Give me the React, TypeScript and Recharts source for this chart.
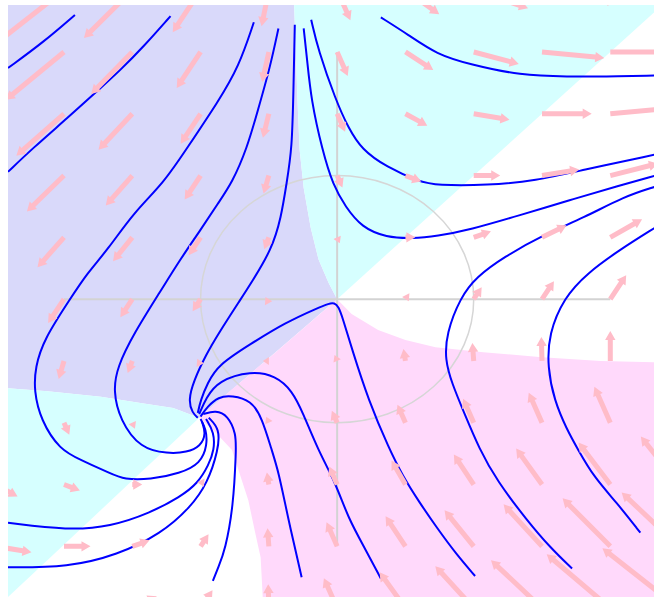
import {
  ComposedChart,
  XAxis,
  YAxis,
  Area,
  Line,
  Scatter,
  ReferenceLine,
  ReferenceArea,
} from "recharts";

type Pt = [number, number];
type BandRow = [number, number, number]; // x, low, high

const W = 654;
const H = 597;
const MARGIN = { top: 5, right: 0, bottom: 0, left: 8 };
const X_DOMAIN: [number, number] = [-2.41, 2.32];
const Y_DOMAIN: [number, number] = [-2.41, 2.38];

// sign regions of (dx/dt, dy/dt)
const lavenderBand: BandRow[] = [
  [-2.41, -0.72, 2.38],
  [-2.12, -0.745, 2.38],
  [-1.73, -0.79, 2.38],
  [-1.44, -0.84, 2.38],
  [-1.2, -0.88, 2.38],
  [-1.07, -0.935, 2.38],
  [-1.01, -0.96, 2.38],
  [-0.315, -0.3, 2.38],
  [-0.29, -0.276, 1.6],
  [-0.275, -0.261, 1.21],
  [-0.245, -0.233, 0.9],
  [-0.194, -0.184, 0.58],
  [-0.136, -0.129, 0.32],
  [-0.062, -0.059, 0.13],
  [0, 0, 0],
];

const cyanUpperBand: BandRow[] = [
  [-0.315, 2.38, 2.38],
  [-0.29, 1.6, 2.38],
  [-0.275, 1.21, 2.38],
  [-0.245, 0.9, 2.38],
  [-0.194, 0.58, 2.38],
  [-0.136, 0.32, 2.38],
  [-0.062, 0.13, 2.38],
  [0, 0, 2.38],
  [2.32, 2.32, 2.38],
];

const pinkBand: BandRow[] = [
  [-1.01, -0.96, -0.96],
  [-0.89, -1.08, -0.845],
  [-0.77, -1.22, -0.73],
  [-0.65, -1.63, -0.62],
  [-0.6, -1.89, -0.57],
  [-0.56, -2.09, -0.53],
  [-0.545, -2.41, -0.52],
  [0, -2.41, 0],
  [0.106, -2.41, -0.12],
  [0.3, -2.41, -0.25],
  [0.5, -2.41, -0.33],
  [0.72, -2.41, -0.39],
  [1.07, -2.41, -0.43],
  [1.5, -2.41, -0.47],
  [1.93, -2.41, -0.5],
  [2.32, -2.41, -0.51],
];

const cyanLowerBand: BandRow[] = [
  [-2.41, -2.41, -0.72],
  [-2.12, -2.11, -0.745],
  [-1.73, -1.706, -0.79],
  [-1.44, -1.405, -0.84],
  [-1.2, -1.157, -0.88],
  [-1.07, -1.022, -0.935],
  [-1.01, -0.96, -0.96],
];

// direction field sample grid
const gridX = [-2.5, -2, -1.5, -1, -0.5, 0, 0.5, 1, 1.5, 2, 2.5];
const gridY = [2.5, 2, 1.5, 1, 0.5, 0, -0.5, -1, -1.5, -2, -2.5];

const fieldU = [
  [-6.75, -5.2, -3.65, -2.1, -0.55, 1.0, 2.55, 4.1, 5.65, 7.2, 8.75],
  [-5.7, -4.4, -3.1, -1.8, -0.5, 0.8, 2.1, 3.4, 4.7, 6.0, 7.3],
  [-4.65, -3.6, -2.55, -1.5, -0.45, 0.6, 1.65, 2.7, 3.75, 4.8, 5.85],
  [-3.6, -2.8, -2.0, -1.2, -0.4, 0.4, 1.2, 2.0, 2.8, 3.6, 4.4],
  [-2.55, -2.0, -1.45, -0.9, -0.35, 0.2, 0.75, 1.3, 1.85, 2.4, 2.95],
  [-1.5, -1.2, -0.9, -0.6, -0.3, 0, 0.3, 0.6, 0.9, 1.2, 1.5],
  [-0.45, -0.4, -0.35, -0.3, -0.25, -0.2, -0.15, -0.1, -0.05, 0, 0.05],
  [0.6, 0.4, 0.2, 0, -0.2, -0.4, -0.6, -0.8, -1.0, -1.2, -1.4],
  [1.65, 1.2, 0.75, 0.3, -0.15, -0.6, -1.05, -1.5, -1.95, -2.4, -2.85],
  [2.7, 2.0, 1.3, 0.6, -0.1, -0.8, -1.5, -2.2, -2.9, -3.6, -4.3],
  [3.75, 2.8, 1.85, 0.9, -0.05, -1.0, -1.95, -2.9, -3.85, -4.8, -5.75],
];

const fieldV = [
  [-5, -4.5, -4, -3.5, -3, -2.5, -2, -1.5, -1, -0.5, 0],
  [-4.5, -4, -3.5, -3, -2.5, -2, -1.5, -1, -0.5, 0, 0.5],
  [-4, -3.5, -3, -2.5, -2, -1.5, -1, -0.5, 0, 0.5, 1],
  [-3.5, -3, -2.5, -2, -1.5, -1, -0.5, 0, 0.5, 1, 1.5],
  [-3, -2.5, -2, -1.5, -1, -0.5, 0, 0.5, 1, 1.5, 2],
  [-2.5, -2, -1.5, -1, -0.5, 0, 0.5, 1, 1.5, 2, 2.5],
  [-2, -1.5, -1, -0.5, 0, 0.5, 1, 1.5, 2, 2.5, 3],
  [-1.5, -1, -0.5, 0, 0.5, 1, 1.5, 2, 2.5, 3, 3.5],
  [-1, -0.5, 0, 0.5, 1, 1.5, 2, 2.5, 3, 3.5, 4],
  [-0.5, 0, 0.5, 1, 1.5, 2, 2.5, 3, 3.5, 4, 4.5],
  [0, 0.5, 1, 1.5, 2, 2.5, 3, 3.5, 4, 4.5, 5],
];

// trajectories
const topLeftShort: Pt[] = [[-2.41, 1.87], [-2.15, 2.08], [-1.92, 2.3]];
const topLeftLong: Pt[] = [
  [-2.41, 1.03], [-2.23, 1.22], [-1.97, 1.47], [-1.75, 1.69], [-1.59, 1.85], [-1.42, 2.04], [-1.22, 2.29],
];
const outerLoop: Pt[] = [
  [-0.61, 2.24], [-0.72, 1.88], [-0.87, 1.6], [-1.1, 1.22], [-1.27, 0.94], [-1.49, 0.7], [-1.68, 0.4],
  [-1.83, 0.21], [-1.95, 0.01], [-2.15, -0.33], [-2.21, -0.55], [-2.22, -0.74], [-2.17, -0.98],
  [-2.03, -1.22], [-1.88, -1.3], [-1.66, -1.41], [-1.56, -1.46], [-1.37, -1.46], [-1.15, -1.41],
  [-1.0, -1.33], [-0.95, -1.18], [-0.96, -1.05], [-1.0, -0.97],
];
const innerLoop: Pt[] = [
  [-0.43, 2.19], [-0.49, 1.88], [-0.58, 1.53], [-0.66, 1.22], [-0.77, 0.94], [-0.87, 0.78], [-1.0, 0.56],
  [-1.15, 0.32], [-1.29, 0.07], [-1.49, -0.28], [-1.61, -0.55], [-1.64, -0.74], [-1.59, -0.98],
  [-1.44, -1.21], [-1.24, -1.25], [-1.1, -1.24], [-1.0, -1.19], [-0.96, -1.09], [-0.99, -0.99],
];
const leftSeparatrix: Pt[] = [
  [-0.31, 2.22], [-0.32, 1.69], [-0.33, 1.22], [-0.37, 0.94], [-0.41, 0.66], [-0.48, 0.4], [-0.63, 0.13],
  [-0.7, 0.01], [-0.87, -0.28], [-0.96, -0.45], [-1.05, -0.66], [-1.09, -0.82], [-1.06, -0.92], [-1.02, -0.96],
];
const upperRightInner: Pt[] = [
  [-0.245, 2.19], [-0.22, 1.94], [-0.19, 1.61], [-0.11, 1.21], [-0.03, 0.92], [0.06, 0.75], [0.18, 0.58],
  [0.36, 0.5], [0.55, 0.49], [0.73, 0.51], [0.97, 0.56], [1.34, 0.68], [1.7, 0.8], [2.07, 0.92], [2.33, 1.0],
];
const upperRightOuter: Pt[] = [
  [-0.19, 2.26], [-0.14, 2.02], [-0.01, 1.61], [0.08, 1.39], [0.18, 1.21], [0.36, 1.07], [0.6, 0.95],
  [0.73, 0.92], [1.1, 0.92], [1.46, 0.96], [1.78, 1.04], [2.33, 1.17],
];
const topRight: Pt[] = [
  [0.32, 2.28], [0.52, 2.14], [0.73, 1.98], [0.97, 1.9], [1.34, 1.81], [1.7, 1.8], [1.95, 1.8], [2.33, 1.81],
];
const rightInner: Pt[] = [
  [2.33, 0.91], [2.1, 0.83], [1.81, 0.66], [1.51, 0.52], [1.22, 0.34], [1.02, 0.18], [0.9, 0.01],
  [0.8, -0.28], [0.79, -0.49], [0.84, -0.68], [0.93, -0.92], [1.04, -1.21], [1.17, -1.47], [1.39, -1.79],
  [1.56, -2.01], [1.72, -2.18],
];
const rightOuter: Pt[] = [
  [2.33, 0.58], [2.07, 0.4], [1.83, 0.21], [1.66, 0.01], [1.55, -0.28], [1.54, -0.55], [1.59, -0.82],
  [1.68, -1.05], [1.76, -1.21], [1.88, -1.44], [2.05, -1.65], [2.22, -1.89],
];
const saddleSeparatrix: Pt[] = [
  [1.01, -2.24], [0.87, -2.06], [0.73, -1.85], [0.6, -1.64], [0.48, -1.43], [0.38, -1.21], [0.23, -0.82],
  [0.11, -0.41], [0.04, -0.15], [0.01, -0.06], [-0.02, -0.03], [-0.06, -0.035], [-0.14, -0.07],
  [-0.38, -0.19], [-0.63, -0.36], [-0.87, -0.53], [-0.95, -0.68], [-1.0, -0.82], [-1.02, -0.92],
];
const lowerMid: Pt[] = [
  [0.32, -2.26], [0.21, -2.03], [0.08, -1.77], [-0.01, -1.49], [-0.14, -1.22], [-0.25, -0.92],
  [-0.33, -0.74], [-0.45, -0.62], [-0.63, -0.58], [-0.87, -0.66], [-0.96, -0.8], [-1.01, -0.93],
];
const lowerLeftMid: Pt[] = [
  [-0.26, -2.25], [-0.36, -1.77], [-0.43, -1.39], [-0.48, -1.22], [-0.55, -0.96], [-0.63, -0.82],
  [-0.77, -0.78], [-0.87, -0.79], [-0.95, -0.87], [-1.0, -0.95],
];
const belowFocus: Pt[] = [
  [-0.91, -2.28], [-0.87, -2.17], [-0.82, -2.03], [-0.76, -1.68], [-0.74, -1.22], [-0.74, -1.09],
  [-0.8, -0.94], [-0.89, -0.9], [-0.98, -0.93],
];
const bottomLeftUpper: Pt[] = [
  [-2.41, -1.81], [-1.97, -1.87], [-1.66, -1.84], [-1.37, -1.73], [-1.15, -1.6], [-1.02, -1.49],
  [-0.94, -1.34], [-0.9, -1.22], [-0.9, -1.08], [-0.96, -0.97],
];
const bottomLeftLower: Pt[] = [
  [-2.41, -2.17], [-1.97, -2.17], [-1.61, -2.07], [-1.29, -1.9], [-1.07, -1.68], [-0.95, -1.49],
  [-0.87, -1.22], [-0.86, -1.05], [-0.94, -0.96],
];

const trajectories = [
  topLeftShort, topLeftLong, outerLoop, innerLoop, leftSeparatrix, upperRightInner, upperRightOuter,
  topRight, rightInner, rightOuter, saddleSeparatrix, lowerMid, lowerLeftMid, belowFocus,
  bottomLeftUpper, bottomLeftLower,
];

const toBand = (rows: BandRow[]) => rows.map(([x, lo, hi]) => ({ x, range: [lo, hi] }));
const toRows = (pts: Pt[]) => pts.map(([x, y]) => ({ x, y }));

const arrowData = gridY.flatMap((y, j) =>
  gridX.map((x, i) => ({ x, y, u: fieldU[j][i], v: fieldV[j][i] }))
);

// pixels per data unit inside the plot
const PX_X = (W - MARGIN.left - MARGIN.right) / (X_DOMAIN[1] - X_DOMAIN[0]);
const PX_Y = (H - MARGIN.top - MARGIN.bottom) / (Y_DOMAIN[1] - Y_DOMAIN[0]);
const ARROW_SCALE = 0.097;

function FieldArrow(props: any) {
  const { cx, cy, payload } = props;
  const dx = payload.u * ARROW_SCALE * PX_X;
  const dy = -payload.v * ARROW_SCALE * PX_Y;
  const len = Math.hypot(dx, dy);
  if (!len || cx == null || cy == null) return <g />;
  const ang = (Math.atan2(dy, dx) * 180) / Math.PI;
  const head = 9;
  let pts: number[][];
  if (len <= head) {
    const l = Math.max(len, 6);
    pts = [[0, -4], [l, 0], [0, 4]];
  } else {
    pts = [
      [0, -2.5], [len - head, -2.5], [len - head, -5.2], [len, 0],
      [len - head, 5.2], [len - head, 2.5], [0, 2.5],
    ];
  }
  return (
    <polygon
      points={pts.map((p) => p.join(",")).join(" ")}
      transform={`translate(${cx},${cy}) rotate(${ang})`}
      fill="#ffbcc8"
    />
  );
}

function UnitCircle(props: any) {
  const { x, y, width, height } = props;
  return (
    <ellipse
      cx={x + width / 2}
      cy={y + height / 2}
      rx={Math.abs(width) / 2}
      ry={Math.abs(height) / 2}
      fill="none"
      stroke="#d6d6d6"
      strokeWidth={1.5}
    />
  );
}

export default function App() {
  return (
    <div style={{ position: "absolute", left: 0, top: 0, width: W, height: H, background: "#fff" }}>
      <ComposedChart width={W} height={H} margin={MARGIN}>
        <XAxis type="number" dataKey="x" domain={X_DOMAIN} hide allowDataOverflow />
        <YAxis type="number" dataKey="y" domain={Y_DOMAIN} hide allowDataOverflow />
        <Area data={toBand(lavenderBand)} dataKey="range" type="linear" stroke="none" fill="#d9d9fa" fillOpacity={1} isAnimationActive={false} activeDot={false} />
        <Area data={toBand(cyanUpperBand)} dataKey="range" type="linear" stroke="none" fill="#d6ffff" fillOpacity={1} isAnimationActive={false} activeDot={false} />
        <Area data={toBand(pinkBand)} dataKey="range" type="linear" stroke="none" fill="#ffd9fb" fillOpacity={1} isAnimationActive={false} activeDot={false} />
        <Area data={toBand(cyanLowerBand)} dataKey="range" type="linear" stroke="none" fill="#d6ffff" fillOpacity={1} isAnimationActive={false} activeDot={false} />
        <ReferenceArea x1={-1} x2={1} y1={-1} y2={1} shape={(p: any) => <UnitCircle {...p} />} />
        <ReferenceLine segment={[{ x: -2, y: 0 }, { x: 2, y: 0 }]} stroke="#d3d3d3" strokeWidth={2} />
        <ReferenceLine segment={[{ x: 0, y: -2 }, { x: 0, y: 2 }]} stroke="#d3d3d3" strokeWidth={2} />
        <Scatter data={arrowData} shape={(p: any) => <FieldArrow {...p} />} isAnimationActive={false} />
        {trajectories.map((t, i) => (
          <Line
            key={i}
            data={toRows(t)}
            dataKey="y"
            type="basis"
            stroke="#0000ff"
            strokeWidth={2}
            dot={false}
            activeDot={false}
            isAnimationActive={false}
          />
        ))}
      </ComposedChart>
    </div>
  );
}
